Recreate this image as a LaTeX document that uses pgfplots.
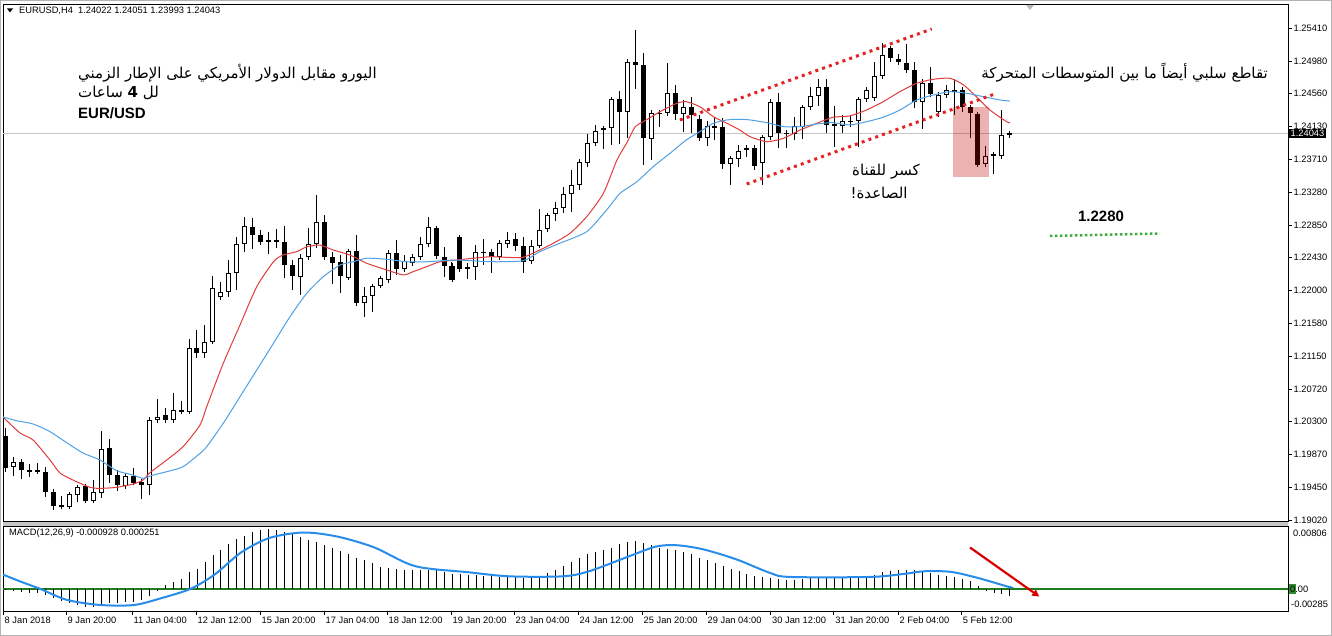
\documentclass[border=0pt]{standalone}
\usepackage{pgfplots}
\pgfplotsset{compat=1.18}
\usepackage{pgfplotstable}
\usepackage{fontspec}
\setmainfont{Liberation Sans}
\newfontfamily\arabicfont[Script=Arabic]{DejaVu Sans}
\usetikzlibrary{arrows.meta}
\TeXXeTstate=1

\definecolor{maRed}{RGB}{225,60,60}
\definecolor{maBlue}{RGB}{80,160,230}
\definecolor{sigBlue}{RGB}{40,140,235}
\definecolor{zeroGreen}{RGB}{30,125,30}
\definecolor{boxGreen}{RGB}{50,140,50}
\definecolor{chanRed}{RGB}{230,35,35}
\definecolor{lvlGreen}{RGB}{60,170,60}

% EURUSD H4 candles, k = bar index
\pgfplotstableread{
k o h l c
1 1.19713 1.19839 1.19592 1.19778
8 1.19193 1.19375 1.19173 1.19358
9 1.19345 1.19453 1.19258 1.19445
11 1.19271 1.19540 1.19258 1.19388
12 1.19375 1.20181 1.19303 1.19939
15 1.19462 1.19627 1.19432 1.19592
18 1.19475 1.20362 1.19345 1.20320
19 1.20320 1.20592 1.20310 1.20362
21 1.20320 1.20670 1.20310 1.20449
23 1.20427 1.21368 1.20397 1.21251
25 1.21193 1.21553 1.21121 1.21336
26 1.21336 1.22190 1.21316 1.22038
27 1.21913 1.22116 1.21878 1.21986
28 1.21986 1.22397 1.21913 1.22232
29 1.22225 1.22700 1.22008 1.22605
30 1.22605 1.22960 1.22505 1.22839
37 1.22173 1.22475 1.21943 1.22427
38 1.22432 1.22809 1.22420 1.22605
39 1.22605 1.23242 1.22549 1.22895
43 1.22164 1.22527 1.22138 1.22514
45 1.21835 1.22051 1.21661 1.21930
46 1.21930 1.22086 1.21726 1.22060
47 1.22060 1.22173 1.22051 1.22160
48 1.22138 1.22527 1.22129 1.22492
50 1.22277 1.22462 1.22245 1.22388
51 1.22355 1.22475 1.22345 1.22432
52 1.22432 1.22700 1.22420 1.22605
53 1.22605 1.22952 1.22592 1.22822
58 1.22277 1.22362 1.22147 1.22303
59 1.22303 1.22592 1.22138 1.22505
62 1.22432 1.22635 1.22397 1.22622
63 1.22605 1.22765 1.22549 1.22657
66 1.22384 1.22657 1.22345 1.22586
67 1.22586 1.23056 1.22553 1.22783
68 1.22796 1.23014 1.22755 1.22982
69 1.22995 1.23155 1.22904 1.23069
70 1.23069 1.23349 1.23012 1.23255
71 1.23255 1.23566 1.23025 1.23371
72 1.23371 1.23705 1.23307 1.23674
73 1.23661 1.24034 1.23609 1.23921
74 1.23913 1.24151 1.23891 1.24077
76 1.24108 1.24518 1.23891 1.24484
78 1.24323 1.24990 1.23978 1.24973
81 1.23965 1.24345 1.23696 1.24303
83 1.24303 1.24952 1.24281 1.24562
85 1.24294 1.24475 1.24064 1.24388
88 1.23978 1.24203 1.23878 1.24144
91 1.23651 1.23748 1.23371 1.23718
92 1.23716 1.23891 1.23609 1.23820
95 1.23653 1.24008 1.23371 1.23991
96 1.23991 1.24475 1.23956 1.24453
99 1.24034 1.24251 1.23956 1.24138
100 1.24129 1.24397 1.23965 1.24381
101 1.24381 1.24648 1.24345 1.24527
102 1.24527 1.24744 1.24397 1.24640
105 1.24138 1.24281 1.24043 1.24207
106 1.24193 1.24268 1.24129 1.24207
107 1.24207 1.24518 1.23869 1.24484
108 1.24484 1.24648 1.24453 1.24605
109 1.24497 1.24973 1.24475 1.24787
110 1.24787 1.25220 1.24770 1.25060
115 1.24453 1.24744 1.24095 1.24692
117 1.24323 1.24583 1.24251 1.24540
118 1.24540 1.24670 1.24497 1.24605
119 1.24588 1.24744 1.24281 1.24605
123 1.23644 1.23878 1.23609 1.23748
125 1.23748 1.24345 1.23709 1.24027
126 1.24022 1.24051 1.23993 1.24043
}\bull

\pgfplotstableread{
k o h l c
0 1.20112 1.20216 1.19644 1.19696
2 1.19778 1.19778 1.19553 1.19670
3 1.19670 1.19748 1.19579 1.19653
4 1.19674 1.19761 1.19648 1.19648
5 1.19648 1.19709 1.19320 1.19388
6 1.19388 1.19388 1.19151 1.19203
7 1.19216 1.19332 1.19160 1.19193
10 1.19462 1.19488 1.19258 1.19271
13 1.19952 1.20069 1.19497 1.19605
14 1.19605 1.19670 1.19401 1.19475
16 1.19592 1.19692 1.19475 1.19505
17 1.19518 1.19549 1.19290 1.19475
20 1.20384 1.20475 1.20297 1.20320
22 1.20449 1.20570 1.20397 1.20427
24 1.21251 1.21488 1.21121 1.21193
31 1.22830 1.22939 1.22536 1.22722
32 1.22722 1.22787 1.22614 1.22627
33 1.22657 1.22765 1.22475 1.22635
34 1.22657 1.22796 1.22549 1.22627
35 1.22627 1.22839 1.22160 1.22332
36 1.22332 1.22397 1.22008 1.22190
40 1.22895 1.22982 1.22397 1.22440
41 1.22440 1.22505 1.22086 1.22362
42 1.22375 1.22462 1.21973 1.22190
44 1.22514 1.22722 1.21800 1.21839
49 1.22492 1.22657 1.22203 1.22277
54 1.22809 1.22830 1.22440 1.22449
55 1.22440 1.22570 1.22181 1.22320
56 1.22320 1.22375 1.22138 1.22138
57 1.22692 1.22722 1.22258 1.22277
60 1.22505 1.22666 1.22332 1.22492
61 1.22505 1.22527 1.22232 1.22432
64 1.22666 1.22752 1.22518 1.22579
65 1.22579 1.22700 1.22225 1.22375
75 1.24108 1.24121 1.23835 1.24095
77 1.24484 1.24596 1.23904 1.24323
79 1.24973 1.25384 1.24614 1.24930
80 1.24930 1.25082 1.23631 1.23978
82 1.24310 1.24323 1.24129 1.24290
84 1.24562 1.24670 1.24216 1.24294
86 1.24388 1.24510 1.24051 1.24281
87 1.24225 1.24281 1.23956 1.23978
89 1.24138 1.24255 1.23956 1.24121
90 1.24121 1.24238 1.23586 1.23651
93 1.23848 1.23891 1.23739 1.23826
94 1.23848 1.23891 1.23566 1.23618
97 1.24453 1.24562 1.23848 1.24051
98 1.24051 1.24064 1.23848 1.24034
103 1.24640 1.24744 1.24051 1.24151
104 1.24160 1.24397 1.23861 1.24142
111 1.25147 1.25168 1.24973 1.25017
112 1.25004 1.25073 1.24930 1.24973
113 1.24960 1.25203 1.24822 1.24865
114 1.24865 1.24973 1.24368 1.24453
116 1.24692 1.24900 1.24518 1.24553
120 1.24605 1.24648 1.24323 1.24381
121 1.24381 1.24388 1.23988 1.24303
122 1.24294 1.24303 1.23609 1.23638
124 1.23774 1.23791 1.23514 1.23755
}\bear

% moving averages (fast red, slow blue)
\pgfplotstableread{
k v
-0.34 1.20358
1.79 1.20151
3.43 1.20060
5.56 1.19800
6.81 1.19631
8.44 1.19540
10.58 1.19445
11.83 1.19432
13.93 1.19445
15.97 1.19488
17.23 1.19540
18.1 1.19635
20.2 1.19800
22.25 1.19973
24.38 1.20255
25.22 1.20492
27.3 1.21056
29.4 1.21553
31.5 1.22051
33.6 1.22375
34.8 1.22462
36.5 1.22505
37.8 1.22570
39.4 1.22592
41.1 1.22527
43.2 1.22462
45.3 1.22355
47.8 1.22268
49.9 1.22203
51.1 1.22245
52.8 1.22310
54.5 1.22375
56.6 1.22397
58.7 1.22420
60.8 1.22440
62.9 1.22432
64.9 1.22432
67.0 1.22527
68.7 1.22614
70.8 1.22744
72.9 1.22960
75.0 1.23264
76.7 1.23696
77.9 1.23913
79.0 1.24129
80.0 1.24193
82.1 1.24323
84.2 1.24432
85.4 1.24453
87.1 1.24388
88.8 1.24258
90.5 1.24173
92.1 1.24086
93.4 1.23999
95.5 1.23934
97.6 1.23978
99.7 1.24086
101.8 1.24173
103.8 1.24251
105.9 1.24268
108.0 1.24345
110.1 1.24453
112.2 1.24583
114.3 1.24692
116.4 1.24744
118.5 1.24757
120.2 1.24670
121.8 1.24518
123.5 1.24345
125.6 1.24193
126 1.24180
}\maFast

\pgfplotstableread{
k v
-0.34 1.20358
1.38 1.20310
3.43 1.20268
5.56 1.20168
7.65 1.20025
9.7 1.19891
11.83 1.19800
13.93 1.19661
15.97 1.19605
17.23 1.19562
18.5 1.19605
20.2 1.19648
22.25 1.19713
24.38 1.19887
25.22 1.19973
27.3 1.20277
29.4 1.20622
31.5 1.20969
33.6 1.21316
35.67 1.21661
37.77 1.21965
39.85 1.22181
41.95 1.22332
43.6 1.22375
45.3 1.22420
47.8 1.22407
50.3 1.22375
52.8 1.22375
56.6 1.22397
60.8 1.22375
64.9 1.22388
67.0 1.22505
69.5 1.22614
72.9 1.22765
75.4 1.23047
77.1 1.23264
79.2 1.23414
81.25 1.23609
83.35 1.23783
85.4 1.23956
87.1 1.24064
88.8 1.24173
90.5 1.24216
92.1 1.24225
93.4 1.24216
95.5 1.24181
97.6 1.24129
99.7 1.24129
101.8 1.24164
103.8 1.24181
105.9 1.24151
108.0 1.24193
110.1 1.24251
112.2 1.24345
114.3 1.24475
116.4 1.24540
118.5 1.24583
120.6 1.24562
122.7 1.24518
124.8 1.24475
126 1.24462
}\maSlow

% MACD(12,26,9) main line, drawn as histogram
\pgfplotstableread{
k v
0 -0.00013
1 -0.00026
2 -0.00039
3 -0.00048
4 -0.00056
5 -0.00082
6 -0.00117
7 -0.00156
8 -0.00186
9 -0.00212
10 -0.00230
11 -0.00238
12 -0.00212
13 -0.00186
14 -0.00178
15 -0.00169
16 -0.00165
17 -0.00143
18 -0.00091
19 -0.00022
20 0.00048
21 0.00082
22 0.00126
23 0.00212
24 0.00256
25 0.00342
26 0.00429
27 0.00498
28 0.00572
29 0.00637
30 0.00680
31 0.00724
32 0.00750
33 0.00763
34 0.00754
35 0.00732
36 0.00698
37 0.00659
38 0.00628
39 0.00602
40 0.00568
41 0.00529
42 0.00485
43 0.00442
44 0.00399
45 0.00368
46 0.00325
47 0.00282
48 0.00264
49 0.00256
50 0.00247
51 0.00238
52 0.00238
53 0.00247
54 0.00238
55 0.00212
56 0.00186
57 0.00195
58 0.00182
59 0.00182
60 0.00169
61 0.00160
62 0.00152
63 0.00152
64 0.00152
65 0.00139
66 0.00152
67 0.00169
68 0.00204
69 0.00238
70 0.00290
71 0.00342
72 0.00399
73 0.00442
74 0.00472
75 0.00498
76 0.00529
77 0.00572
78 0.00602
79 0.00615
80 0.00585
81 0.00559
82 0.00529
83 0.00516
84 0.00498
85 0.00472
86 0.00442
87 0.00399
88 0.00368
89 0.00334
90 0.00290
91 0.00256
92 0.00225
93 0.00195
94 0.00169
95 0.00152
96 0.00139
97 0.00126
98 0.00117
99 0.00117
100 0.00126
101 0.00139
102 0.00152
103 0.00139
104 0.00139
105 0.00152
106 0.00152
107 0.00160
108 0.00169
109 0.00182
110 0.00212
111 0.00225
112 0.00238
113 0.00247
114 0.00247
115 0.00225
116 0.00204
117 0.00182
118 0.00160
119 0.00152
120 0.00126
121 0.00095
122 0.00039
123 -0.00022
124 -0.00048
125 -0.00065
126 -0.00093
}\macd

\pgfplotstableread{
k v
-0.34 0.00182
1.8 0.00095
4.3 0.0
7.7 -0.00143
11.9 -0.00208
16.1 -0.00208
19.5 -0.00121
23.2 0.0
26.2 0.00182
29.5 0.00464
32.9 0.00646
36.3 0.00715
38.8 0.00715
42.1 0.00659
46.3 0.00529
51.4 0.00290
58.1 0.00212
63.2 0.00160
69.9 0.00160
73.2 0.00225
78.3 0.00420
81.6 0.00542
84.2 0.00559
87.5 0.00507
91.7 0.00377
95.9 0.00204
98.4 0.00152
108.5 0.00152
112.7 0.00191
115.3 0.00225
118.6 0.00217
122 0.00139
125.8 0.00026
126 0.000251
}\signal

\newcommand{\lbl}{\fontsize{9.3}{11}\selectfont}
\newcommand{\arb}{\arabicfont\fontsize{15}{17}\selectfont}

\begin{document}
\begin{tikzpicture}[x=1pt,y=1pt]
\useasboundingbox (0,0) rectangle (1332,636);
\fill[white] (0,0) rectangle (1332,636);
\draw[gray!60, line width=1pt] (0.5,0.5) rectangle (1331.5,635.5);
\fill[gray!45] (3,115) rectangle (1288,110);

\begin{axis}[
  at={(3pt,632pt)}, anchor=north west,
  width=1285pt, height=517pt, scale only axis,
  xmin=-0.34, xmax=160.9,
  ymin=1.19008, ymax=1.25722,
  xtick=\empty,
  ytick={1.19020,1.19450,1.19870,1.20300,1.20720,1.21150,1.21580,1.22000,1.22430,1.22850,1.23280,1.23710,1.24130,1.24560,1.24980,1.25410},
  yticklabels={1.19020,1.19450,1.19870,1.20300,1.20720,1.21150,1.21580,1.22000,1.22430,1.22850,1.23280,1.23710,1.24130,1.24560,1.24980,1.25410},
  ytick pos=right, yticklabel pos=right,
  tick align=outside, major tick length=4pt,
  tick style={black, line width=0.8pt},
  axis line style={black, line width=0.8pt},
  yticklabel style={font=\lbl, anchor=west, inner xsep=1.5pt},
]
% current price line
\addplot[gray!45, line width=0.8pt, forget plot] coordinates {(-0.34,1.24043) (160.9,1.24043)};

% wicks
\addplot[draw=none, mark=none, forget plot, error bars/.cd, y dir=both, y explicit, error mark=none,
  error bar style={draw=black, line width=1pt}]
  table[x=k, y expr={(\thisrow{h}+\thisrow{l})/2}, y error expr={(\thisrow{h}-\thisrow{l})/2}] {\bull};
\addplot[draw=none, mark=none, forget plot, error bars/.cd, y dir=both, y explicit, error mark=none,
  error bar style={draw=black, line width=1pt}]
  table[x=k, y expr={(\thisrow{h}+\thisrow{l})/2}, y error expr={(\thisrow{h}-\thisrow{l})/2}] {\bear};
% bodies
\addplot[draw=none, mark=none, forget plot, error bars/.cd, y dir=both, y explicit, error mark=-,
  error mark options={draw=black, line width=1pt, mark size=2.5pt},
  error bar style={draw=black, line width=5pt}]
  table[x=k, y expr={(\thisrow{o}+\thisrow{c})/2}, y error expr={(\thisrow{o}-\thisrow{c})/2}] {\bear};
\addplot[draw=none, mark=none, forget plot, error bars/.cd, y dir=both, y explicit, error mark=-,
  error mark options={draw=black, line width=1pt, mark size=2.5pt},
  error bar style={draw=black, line width=5pt}]
  table[x=k, y expr={(\thisrow{o}+\thisrow{c})/2}, y error expr={(\thisrow{c}-\thisrow{o})/2}] {\bull};
\addplot[draw=none, mark=none, forget plot, error bars/.cd, y dir=both, y explicit, error mark=none,
  error bar style={draw=white, line width=3pt}]
  table[x=k, y expr={(\thisrow{o}+\thisrow{c})/2}, y error expr={max((\thisrow{c}-\thisrow{o})/2-0.00013,0)}] {\bull};

% moving averages
\addplot[maRed, line width=1pt, smooth, tension=0.4] table[x=k, y=v] {\maFast};
\addplot[maBlue, line width=1pt, smooth, tension=0.4] table[x=k, y=v] {\maSlow};

% channel and level
\addplot[chanRed, line width=3pt, dash pattern=on 3pt off 4.2pt] coordinates {(84.6,1.24216) (116.2,1.25397)};
\addplot[chanRed, line width=3pt, dash pattern=on 3pt off 4.2pt] coordinates {(92.97,1.23384) (124.34,1.24562)};
\addplot[lvlGreen, line width=2.5pt, dash pattern=on 2.5pt off 2.5pt] coordinates {(131.03,1.22709) (144.83,1.22742)};

% highlight of the break
\fill[red!75!black, opacity=0.3] (axis cs:118.86,1.24380) rectangle (axis cs:123.37,1.23475);

\coordinate (pl) at (axis cs:160.9,1.24043);
\end{axis}

\begin{axis}[
  at={(3pt,110pt)}, anchor=north west,
  width=1285pt, height=85pt, scale only axis,
  xmin=-0.34, xmax=160.9,
  ymin=-0.00285, ymax=0.00806,
  ytick=\empty,
  xtick={-0.34,7.57,15.85,23.88,31.91,39.94,47.84,55.87,63.78,71.81,79.84,87.87,95.97,103.9,111.96,119.9},
  xticklabels={8 Jan 2018,9 Jan 20:00,11 Jan 04:00,12 Jan 12:00,15 Jan 20:00,17 Jan 04:00,18 Jan 12:00,19 Jan 20:00,23 Jan 04:00,24 Jan 12:00,25 Jan 20:00,29 Jan 04:00,30 Jan 12:00,31 Jan 20:00,2 Feb 04:00,5 Feb 12:00},
  xtick pos=bottom,
  tick align=outside, major tick length=4pt,
  tick style={black, line width=0.8pt},
  axis line style={black, line width=0.8pt},
  xticklabel style={font=\lbl, anchor=north west, inner xsep=1.5pt, inner ysep=2pt},
]
\addplot[zeroGreen, line width=1.6pt] coordinates {(-0.34,0) (160.9,0)};
\addplot[ycomb, black, line width=0.8pt] table[x=k, y=v] {\macd};
\addplot[sigBlue, line width=2pt, smooth, tension=0.5] table[x=k, y=v] {\signal};
\draw[red!85!black, line width=2.2pt, -{Triangle[length=7pt, width=7pt]}] (axis cs:121.0,0.00530) -- (axis cs:129.7,-0.00100);
\end{axis}

% price label and panel labels
\node[fill=black, text=white, font=\lbl, anchor=west, inner xsep=1.5pt, inner ysep=1pt] at ([xshift=1pt]pl) {1.24043};
\node[font=\lbl, anchor=west, inner sep=0pt] at (1293,103) {0.00806};
\node[font=\lbl, anchor=west, inner sep=0pt] at (1291,32) {-0.00285};
\fill[boxGreen] (1289,42) rectangle (1296,52);
\node[font=\lbl, anchor=west, inner sep=0pt] at (1290,47) {0.00};

% header
\fill[black] (7,627.5) -- (13,627.5) -- (10,623.5) -- cycle;
\node[font=\lbl, anchor=west, inner sep=0pt] at (19,625) {EURUSD,H4\ \ 1.24022 1.24051 1.23993 1.24043};
\fill[gray!55] (1026,631) -- (1034,631) -- (1030,626) -- cycle;
\node[font=\lbl, anchor=west, inner sep=0pt] at (9,103) {MACD(12,26,9) -0.000928 0.000251};

% annotations
\node[font=\arb, anchor=west, inner sep=0pt] at (78,563) {\beginR اليورو مقابل الدولار الأمريكي على الإطار الزمني\endR};
\node[font=\arb, anchor=west, inner sep=0pt] at (78,543) {\beginR لل {\bfseries 4} ساعات\endR};
\node[font=\bfseries\fontsize{15}{17}\selectfont, anchor=west, inner sep=0pt] at (78,523) {EUR/USD};
\node[font=\arb, anchor=east, inner sep=0pt] at (1268,563) {\beginR تقاطع سلبي أيضاً ما بين المتوسطات المتحركة\endR};
\node[font=\arb, inner sep=0pt] at (886,464) {\beginR كسر للقناة\endR};
\node[font=\arb, inner sep=0pt] at (879,443) {\beginR الصاعدة!\endR};
\node[font=\bfseries\fontsize{15}{17}\selectfont, inner sep=0pt] at (1101,420) {1.2280};
\end{tikzpicture}
\end{document}
